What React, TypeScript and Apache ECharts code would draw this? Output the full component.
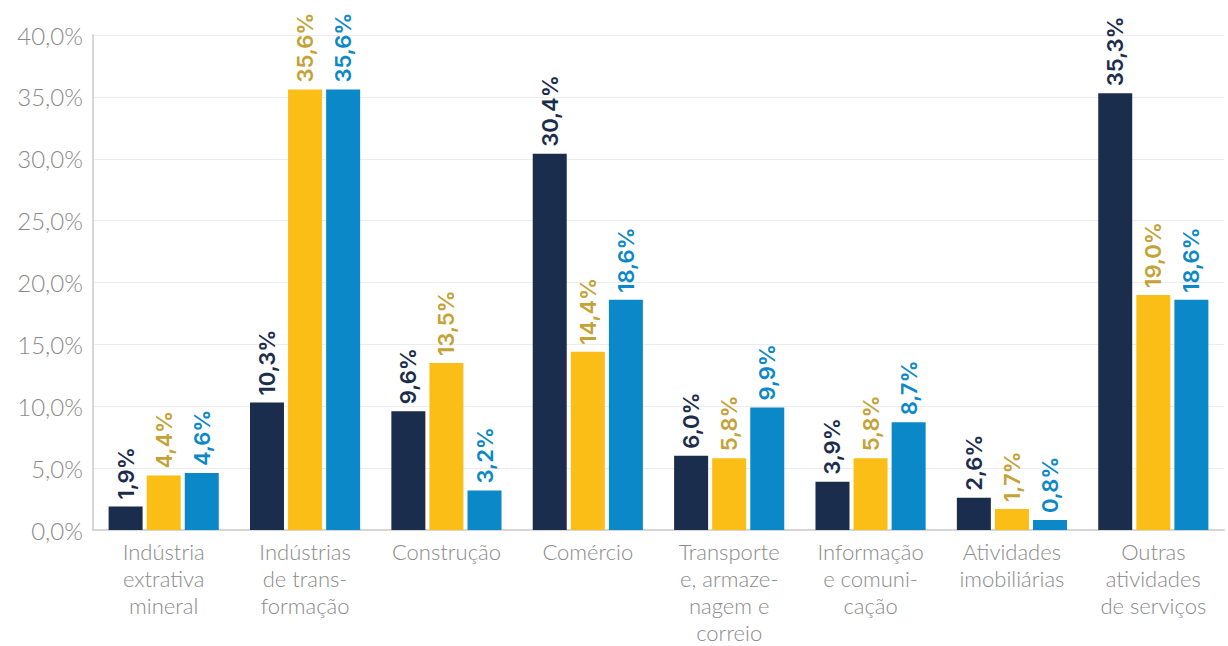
import React, { useEffect, useRef } from "react";
import * as echarts from "echarts";

const categories = [
  "Indústria\nextrativa\nmineral",
  "Indústrias\nde trans-\nformação",
  "Construção",
  "Comércio",
  "Transporte\ne, armaze-\nnagem e\ncorreio",
  "Informação\ne comuni-\ncação",
  "Atividades\nimobiliárias",
  "Outras\natividades\nde serviços",
];
const serie1 = [1.9, 10.3, 9.6, 30.4, 6.0, 3.9, 2.6, 35.3];
const serie2 = [4.4, 35.6, 13.5, 14.4, 5.8, 5.8, 1.7, 19.0];
const serie3 = [4.6, 35.6, 3.2, 18.6, 9.9, 8.7, 0.8, 18.6];
const seriesNames = ["Série 1", "Série 2", "Série 3"];
const barColors = ["#1b2d4c", "#fbbe17", "#0a88c8"];
const labelColors = ["#1b2d4c", "#c4a235", "#0a88c8"];

const fmt = (v: number) => v.toFixed(1).replace(".", ",") + "%";

export default function App() {
  const ref = useRef<HTMLDivElement>(null);
  useEffect(() => {
    if (!ref.current) return;
    const chart = echarts.init(ref.current, null, { renderer: "svg" });
    const data = [serie1, serie2, serie3];
    chart.setOption({
      animation: false,
      grid: { left: 93, right: 4, top: 35, bottom: 108, containLabel: false },
      xAxis: {
        type: "category",
        data: categories,
        axisLine: { show: true, lineStyle: { color: "#d6d6d6", width: 2 } },
        axisTick: { show: false },
        axisLabel: {
          color: "#8a8a8a",
          fontFamily: "Lato",
          fontWeight: 300,
          fontSize: 22,
          lineHeight: 27,
          margin: 8,
          interval: 0,
        },
      },
      yAxis: {
        type: "value",
        min: 0,
        max: 40,
        interval: 5,
        axisLine: { show: true, lineStyle: { color: "#d6d6d6", width: 2 } },
        axisTick: { show: false },
        splitLine: { lineStyle: { color: "#ececec", width: 1 } },
        axisLabel: {
          color: "#8a8a8a",
          fontFamily: "Lato",
          fontWeight: 300,
          fontSize: 24,
          margin: 10,
          formatter: (v: number) => fmt(v),
        },
      },
      series: data.map((d, i) => ({
        name: seriesNames[i],
        type: "bar",
        data: d,
        barWidth: 34,
        barGap: "12%",
        itemStyle: { color: barColors[i] },
        label: {
          show: true,
          position: "top",
          rotate: 90,
          align: "left",
          verticalAlign: "middle",
          distance: 7,
          color: labelColors[i],
          fontFamily: "Inter",
          fontWeight: 600,
          fontSize: 22,
          formatter: (p: any) => fmt(p.value),
        },
      })),
    });
    return () => chart.dispose();
  }, []);
  return (
    <div
      ref={ref}
      style={{ position: "fixed", left: 0, top: 0, width: 1228, height: 646, background: "#fff" }}
    />
  );
}
